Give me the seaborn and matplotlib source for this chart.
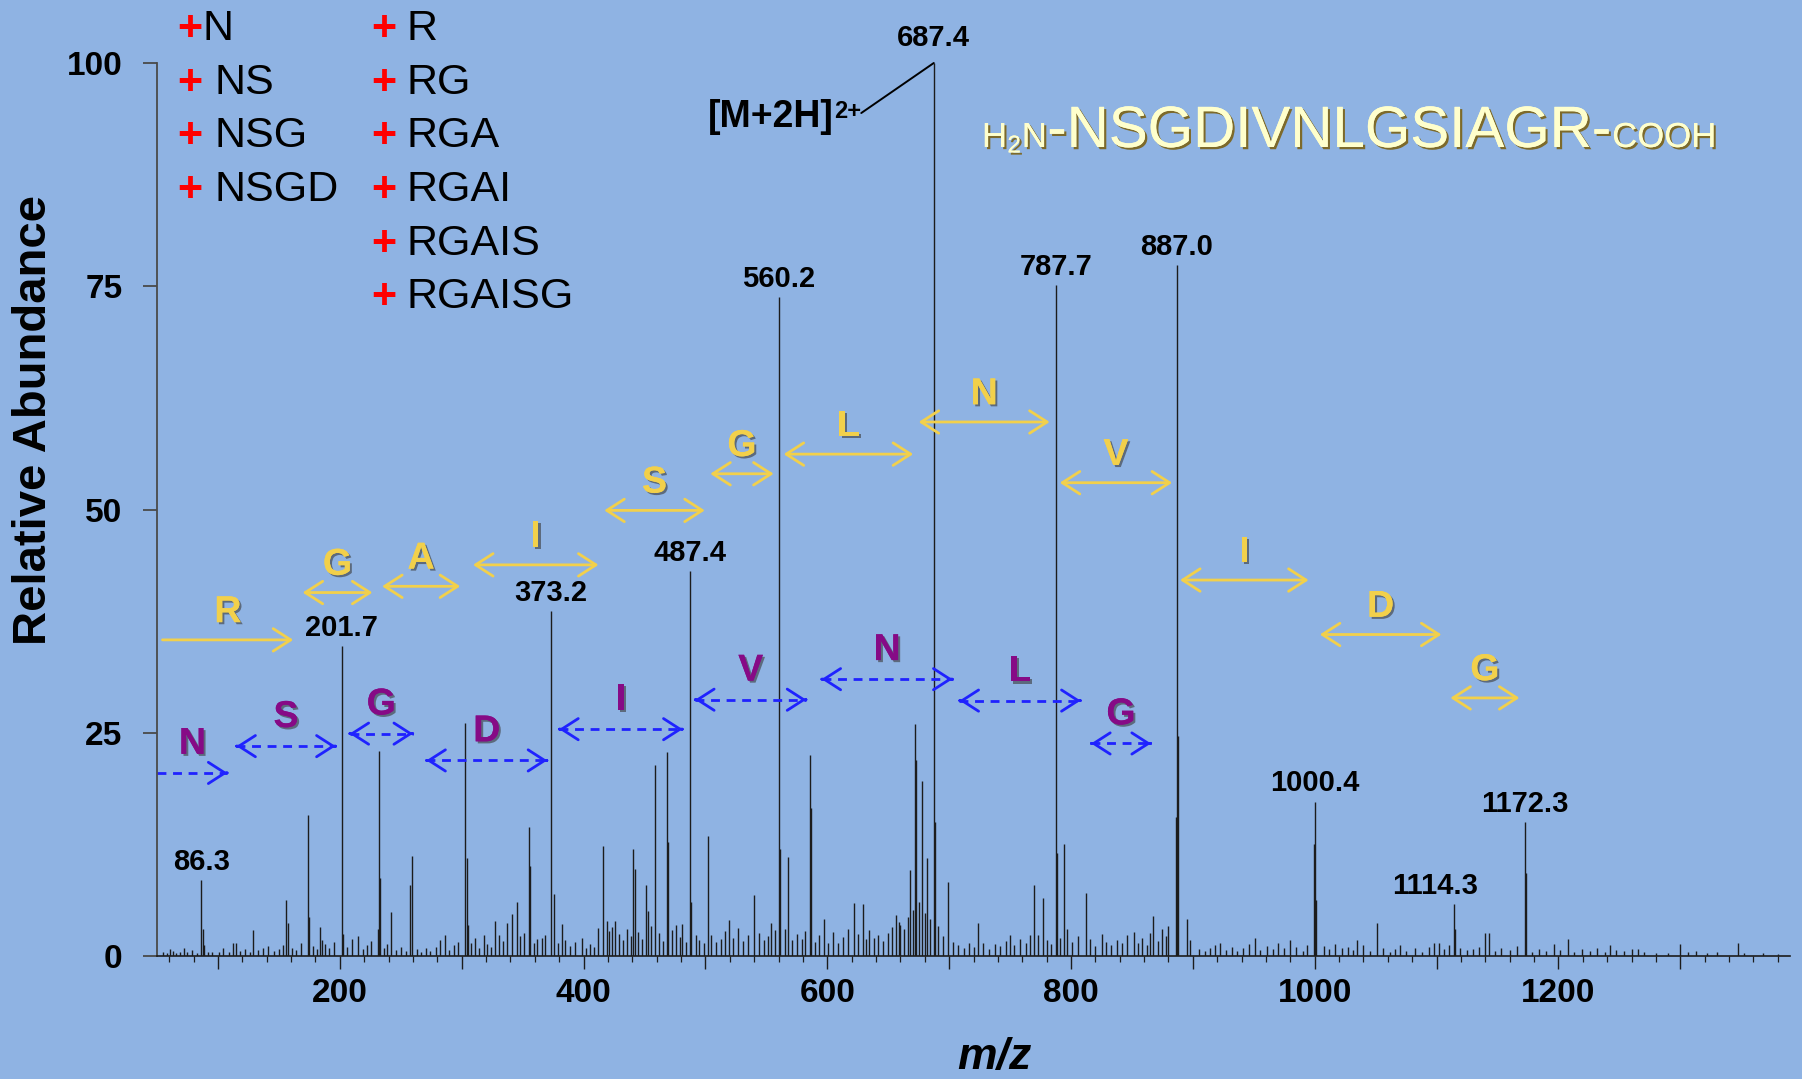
import matplotlib
matplotlib.use('Agg')
import matplotlib.pyplot as plt
import matplotlib.patheffects as pe
import numpy as np
import pandas as pd
import seaborn as sns

sns.set_theme(style='ticks')
plt.rcParams['font.family'] = ['Liberation Sans', 'DejaVu Sans']
plt.rcParams['text.color'] = 'black'
plt.rcParams['mathtext.fontset'] = 'custom'
plt.rcParams['mathtext.rm'] = 'Liberation Sans'
plt.rcParams['mathtext.bf'] = 'Liberation Sans:bold'
plt.rcParams['mathtext.it'] = 'Liberation Sans:italic'

BG = '#8FB3E3'
YELLOW = '#F2D04B'
BLUE = '#1F22FF'
PURPLE = '#860A86'

# --- spectrum: main / fragment peaks (m/z, relative abundance) ---
peak_mz = [61, 72, 86.3, 87.5, 88.5, 112, 115, 129, 156, 157.5,
           173.6, 174.6, 184, 185, 201.7, 202.7, 215, 231, 232, 233,
           242, 258, 259, 286, 303, 304, 305.5, 318, 327, 337,
           341, 345, 355, 356, 366, 373.2, 376, 382, 398.5, 412,
           416, 419, 426, 441, 442, 451, 453, 459, 468.5, 469.5,
           481, 487.4, 488.4, 502, 519, 539.5, 554, 560.2, 561.2, 568,
           585.6, 586.4, 597, 622, 629, 634.5, 656.4, 660, 668, 672,
           673, 677.7, 682, 687.4, 688.4, 699, 724, 750, 770, 777,
           787.7, 788.7, 794.6, 812, 825.7, 851.6, 867.7, 886.2, 887.0, 887.8,
           895.4, 922, 951, 980, 999.6, 1000.4, 1001.4, 1034.7, 1051, 1070,
           1102, 1114.3, 1115.3, 1140, 1143, 1172.3, 1173.3, 1196, 1208, 1242,
           1265, 1299.6, 1313, 1347]
peak_int = [0.8, 0.9, 8.5, 3.0, 1.2, 1.5, 1.5, 2.9, 6.3, 3.7,
            15.8, 4.4, 3.2, 1.8, 34.7, 2.5, 2.2, 3.0, 23.0, 8.7,
            4.9, 8.0, 11.2, 2.4, 26.1, 11.0, 3.5, 2.3, 3.9, 3.7,
            4.7, 6.1, 14.4, 10.1, 2.0, 38.6, 6.9, 3.6, 2.0, 3.1,
            12.3, 3.9, 3.9, 12.0, 9.7, 8.0, 5.0, 21.4, 22.8, 12.8,
            3.6, 43.1, 6.0, 13.4, 4.0, 6.8, 3.7, 73.8, 12.0, 11.1,
            22.5, 16.6, 4.1, 5.9, 5.8, 2.9, 4.6, 3.5, 9.6, 26.0,
            22.0, 19.6, 11.0, 100.0, 15.0, 8.3, 3.7, 2.4, 8.0, 6.5,
            75.1, 11.5, 12.5, 7.1, 2.5, 2.7, 4.5, 15.6, 77.4, 24.6,
            4.1, 1.5, 2.0, 1.8, 12.5, 17.3, 6.3, 1.8, 3.7, 1.2,
            1.5, 5.8, 3.0, 2.6, 2.6, 15.0, 9.3, 1.3, 1.9, 1.2,
            0.8, 1.3, 0.6, 1.4]

# --- spectrum: low-level background peaks ---
noise_mz = [55, 58, 63, 66, 69, 75, 79, 83, 92, 95,
            101, 104, 109, 118, 122, 126, 133, 137, 141, 146,
            150, 153, 161, 164, 168, 178, 181, 188, 191, 195,
            206, 210, 219, 222, 226, 236, 239, 246, 250, 254,
            263, 267, 271, 274, 279, 282, 290, 294, 297, 308,
            311, 314, 321, 324, 331, 334, 348, 351, 359, 362,
            368, 379, 385, 389, 393, 402, 405, 409, 421, 423,
            429, 432, 436, 439, 445, 448, 455, 462, 465, 473,
            476, 479, 484, 492, 495, 499, 505, 509, 513, 516,
            523, 527, 531, 535, 544, 548, 551, 557, 565, 571,
            575, 579, 582, 590, 593, 601, 605, 609, 613, 617,
            625, 632, 638, 642, 646, 650, 653, 659, 663, 666,
            670, 675, 680, 684, 691, 695, 703, 707, 712, 716,
            720, 728, 733, 738, 742, 747, 753, 758, 763, 766,
            773, 780, 784, 791, 797, 801, 806, 816, 820, 829,
            833, 838, 842, 846, 855, 858, 862, 865, 871, 875,
            878, 880, 898, 905, 910, 914, 918, 927, 932, 936,
            941, 946, 955, 961, 966, 970, 975, 985, 990, 994,
            1008, 1012, 1017, 1022, 1027, 1031, 1040, 1045, 1056, 1062,
            1066, 1075, 1082, 1088, 1094, 1098, 1106, 1110, 1119, 1125,
            1130, 1135, 1148, 1153, 1160, 1166, 1178, 1184, 1190, 1201,
            1213, 1219, 1226, 1232, 1238, 1247, 1254, 1260, 1270, 1280,
            1290, 1306, 1322, 1330, 1352, 1368, 1380]
noise_int = [0.4, 0.3, 0.6, 0.3, 0.5, 0.4, 0.7, 0.3, 0.5, 0.4,
             0.5, 0.9, 0.4, 0.6, 0.8, 0.5, 0.7, 0.9, 1.1, 0.6,
             0.8, 1.2, 0.9, 0.7, 1.4, 1.1, 0.8, 1.3, 0.9, 1.6,
             1.0, 1.9, 0.8, 1.2, 1.7, 0.9, 1.3, 0.7, 1.0, 0.6,
             0.8, 0.5, 0.9, 0.6, 1.0, 1.8, 0.7, 1.2, 1.6, 1.4,
             2.0, 0.9, 1.3, 1.0, 2.4, 1.7, 2.2, 2.6, 1.5, 1.9,
             2.3, 1.4, 1.8, 1.1, 1.6, 0.9, 1.3, 1.0, 2.8, 3.2,
             2.5, 1.8, 3.0, 2.2, 2.7, 1.9, 3.4, 2.6, 1.7, 2.9,
             3.5, 2.1, 1.6, 2.4, 1.8, 1.5, 2.3, 1.6, 1.9, 2.8,
             2.0, 3.1, 1.7, 2.4, 2.6, 1.8, 2.2, 2.9, 3.0, 1.8,
             2.5, 1.9, 2.8, 1.6, 2.3, 1.4, 2.7, 1.5, 2.1, 3.0,
             2.5, 1.9, 2.0, 2.4, 1.7, 2.6, 3.2, 3.8, 3.0, 4.4,
             5.2, 6.0, 4.8, 4.1, 3.4, 2.2, 1.6, 1.2, 0.9, 1.4,
             1.0, 1.5, 0.8, 1.3, 1.1, 1.7, 1.2, 1.9, 1.5, 2.3,
             2.4, 1.8, 1.3, 2.0, 3.0, 1.6, 2.2, 1.9, 1.1, 1.6,
             1.2, 1.8, 1.4, 2.3, 1.5, 2.0, 1.2, 2.6, 1.7, 3.0,
             2.2, 3.4, 1.8, 0.8, 0.6, 0.9, 1.2, 0.7, 1.0, 0.6,
             0.9, 1.3, 0.7, 1.1, 0.8, 1.4, 0.9, 1.0, 0.6, 1.2,
             1.1, 0.8, 1.3, 0.9, 1.0, 0.7, 1.2, 0.6, 0.9, 0.5,
             0.8, 0.6, 0.9, 0.5, 1.0, 1.4, 0.8, 1.2, 0.9, 0.7,
             0.8, 1.0, 0.6, 0.9, 0.7, 1.1, 0.5, 0.8, 0.6, 0.7,
             0.5, 0.8, 0.6, 0.9, 0.5, 0.7, 0.6, 0.8, 0.4, 0.3,
             0.3, 0.4, 0.3, 0.4, 0.3, 0.3, 0.2]

# labelled peaks
label_mz = [86.3, 201.7, 373.2, 487.4, 560.2, 687.4, 787.7, 887.0, 1000.4, 1114.3, 1172.3]

# y-ion ladder (yellow) and b-ion ladder (blue)
y_res = ['R', 'G', 'A', 'I', 'S', 'G', 'L', 'N', 'V', 'I', 'D', 'G']
y_from = [54.5, 169.5, 234.7, 309.3, 417, 504, 564.2, 675, 790.8, 889.5, 1004.2, 1111.3]
y_to = [161.8, 226.8, 298.8, 412.3, 499.5, 556, 670.5, 782.5, 883, 995, 1104, 1168]
y_lvl = [35.4, 40.7, 41.4, 43.8, 49.9, 54.0, 56.2, 59.8, 53.0, 42.1, 36.0, 28.9]

b_res = ['N', 'S', 'G', 'D', 'I', 'V', 'N', 'L', 'G']
b_from = [50.3, 115.1, 208, 271, 380, 491.5, 595.3, 708.5, 816.5]
b_to = [107.8, 196.6, 260.1, 370.2, 481.3, 582.8, 702.8, 807.9, 865.6]
b_lvl = [20.5, 23.5, 24.9, 21.9, 25.4, 28.7, 31.0, 28.6, 23.8]

legend_n = ['N', 'NS', 'NSG', 'NSGD']
legend_r = ['R', 'RG', 'RGA', 'RGAI', 'RGAIS', 'RGAISG']

spec = pd.concat([pd.DataFrame({'mz': peak_mz, 'intensity': peak_int}),
                  pd.DataFrame({'mz': noise_mz, 'intensity': noise_int})],
                 ignore_index=True).sort_values('mz')

W, H = 1802, 1079
fig = plt.figure(figsize=(W / 100, H / 100), dpi=100, facecolor=BG)
ax = fig.add_axes([157 / W, 123 / H, 1633 / W, 893 / H])
ax.set_facecolor(BG)

ax.vlines(spec['mz'], 0, spec['intensity'], color='#1c1c1c', lw=1.0)
ax.set_xlim(50, 1390)
ax.set_ylim(0, 100)
sns.despine(ax=ax)
ax.spines['left'].set_color('#4a4a4a')
ax.spines['left'].set_linewidth(1.3)
ax.spines['bottom'].set_color('#1c1c1c')
ax.spines['bottom'].set_linewidth(1.2)

yt = [0, 25, 50, 75, 100]
ax.set_yticks(yt)
ax.set_yticklabels([str(v) for v in yt], fontsize=24, fontweight='bold')
ax.tick_params(axis='y', length=10, width=1.3, color='#4a4a4a', pad=15, labelcolor='black')

xt = np.arange(100, 1400, 100)
ax.set_xticks(xt)
ax.set_xticklabels([str(v) if v % 200 == 0 else '' for v in xt], fontsize=24, fontweight='bold')
ax.set_xticks(np.arange(60, 1390, 20), minor=True)
ax.tick_params(axis='x', which='major', length=9, width=1.0, color='#1c1c1c', pad=7, labelcolor='black')
ax.tick_params(axis='x', which='minor', length=4, width=0.9, color='#1c1c1c')

fig.text(34 / W, 1 - 420 / H, 'Relative Abundance', rotation=90, ha='center', va='center',
         fontsize=34, fontweight='bold')
fig.text(994 / W, 1 - 1058 / H, 'm/z', ha='center', va='center',
         fontsize=32, fontweight='bold', fontstyle='italic')

# peak labels
for mz_l in label_mz:
    h = spec.loc[(spec['mz'] - mz_l).abs() < 0.3, 'intensity'].max()
    dx = -14 if mz_l == 1114.3 else 0
    dy = 8 if mz_l == 687.4 else 3
    ax.annotate(f'{mz_l:.1f}', xy=(mz_l, h), xytext=(dx, dy), textcoords='offset points',
                ha='center', va='bottom', fontsize=21, fontweight='bold', annotation_clip=False)

# precursor annotation: [M+2H] with 2+ superscript and a leader line to the base peak
prec = ax.text(554, 94.0, '[M+2H]', ha='center', va='center', fontsize=27, fontweight='bold')
sup = ax.annotate('2+', xy=(1, 0.95), xycoords=prec, ha='left', va='top',
                  fontsize=17, fontweight='bold')
base = spec.loc[spec['intensity'].idxmax()]
ax.annotate('', xy=(base['mz'], base['intensity']), xycoords='data',
            xytext=(1, 0.45), textcoords=sup,
            arrowprops=dict(arrowstyle='-', color='black', lw=1.4, shrinkA=0, shrinkB=0),
            annotation_clip=False)

shadow = [pe.withSimplePatchShadow(offset=(1.5, -1.5), shadow_rgbFace='#3a3a3a', alpha=0.6), pe.Normal()]

# yellow y-ion arrows
for i, (lab, x0, x1, yv) in enumerate(zip(y_res, y_from, y_to, y_lvl)):
    style = '->' if i == 0 else '<->'
    ax.annotate('', xy=(x1, yv), xytext=(x0, yv),
                arrowprops=dict(arrowstyle=f'{style},head_length=0.7,head_width=0.45', color=YELLOW,
                                lw=2.0, shrinkA=0, shrinkB=0, mutation_scale=18))
    ax.annotate(lab, xy=((x0 + x1) / 2, yv), xytext=(0, 7), textcoords='offset points',
                ha='center', va='bottom', fontsize=27, fontweight='bold', color=YELLOW,
                path_effects=shadow)

# blue dashed b-ion arrows
for i, (lab, x0, x1, yv) in enumerate(zip(b_res, b_from, b_to, b_lvl)):
    ax.plot([x0, x1], [yv, yv], color=BLUE, lw=2.0, ls=(0, (3.2, 2.4)), solid_capstyle='butt')
    heads = [(x1, x1 - 0.5)] if i == 0 else [(x1, x1 - 0.5), (x0, x0 + 0.5)]
    for tip, tail in heads:
        ax.annotate('', xy=(tip, yv), xytext=(tail, yv),
                    arrowprops=dict(arrowstyle='->,head_length=0.7,head_width=0.45', color=BLUE,
                                    lw=2.0, shrinkA=0, shrinkB=0, mutation_scale=17))
    ax.annotate(lab, xy=((x0 + x1) / 2, yv), xytext=(0, 8), textcoords='offset points',
                ha='center', va='bottom', fontsize=27, fontweight='bold', color=PURPLE,
                path_effects=shadow)

# fragment legend
rows = [40, 94, 147, 201, 255, 308]
for j, word in enumerate(legend_n):
    fig.text(177 / W, 1 - rows[j] / H, '+', color='#FF0000', fontsize=31, fontweight='bold', va='baseline')
    fig.text((203 if j == 0 else 215) / W, 1 - rows[j] / H, word, fontsize=31, va='baseline')
for j, word in enumerate(legend_r):
    fig.text(371 / W, 1 - rows[j] / H, '+', color='#FF0000', fontsize=31, fontweight='bold', va='baseline')
    fig.text(407 / W, 1 - rows[j] / H, word, fontsize=31, va='baseline')

# peptide sequence
seq_fx = [pe.withSimplePatchShadow(offset=(1.6, -1.6), shadow_rgbFace='#7d6a2a', alpha=1.0), pe.Normal()]
renderer = fig.canvas.get_renderer()
x_px = 982
for txt, size in [(r'H$_2$N', 25), ('-NSGDIVNLGSIAGR-', 42), ('COOH', 25)]:
    t = fig.text(x_px / W, 1 - 147 / H, txt, fontsize=size, color='#FFFFCC', va='baseline',
                 ha='left', path_effects=seq_fx)
    x_px = t.get_window_extent(renderer).x1 + 1

fig.savefig('out.png', dpi=100, facecolor=BG)
